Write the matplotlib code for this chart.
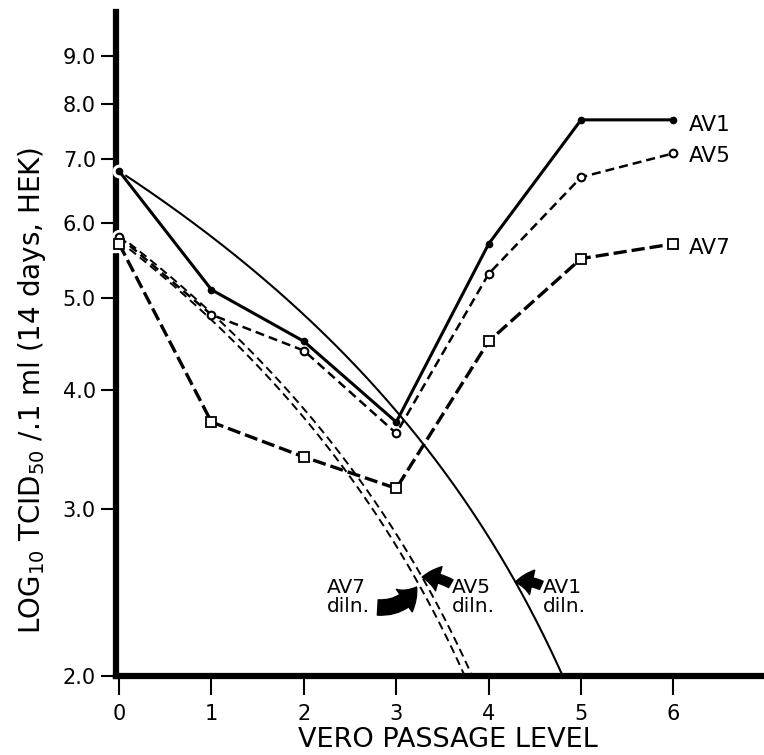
import matplotlib.pyplot as plt
import numpy as np
from matplotlib.path import Path
from matplotlib.ticker import NullLocator

# titers
passage = [0, 1, 2, 3, 4, 5, 6]
av1 = [6.8, 5.1, 4.5, 3.7, 5.7, 7.7, 7.7]
av5 = [5.8, 4.8, 4.4, 3.6, 5.3, 6.7, 7.1]
av7 = [5.7, 3.7, 3.4, 3.15, 4.5, 5.5, 5.7]

# dilution lines (about 1 log per passage), ending at the 2.0 baseline
av1_dil_x = [0, 1, 2, 3, 4, 4.8]
av1_dil = [6.8, 5.8, 4.8, 3.8, 2.8, 2.0]
av5_dil_x = [0, 1, 2, 3, 3.82]
av5_dil = [5.82, 4.82, 3.82, 2.82, 2.0]
av7_dil_x = [0, 1, 2, 3, 3.74]
av7_dil = [5.74, 4.74, 3.74, 2.74, 2.0]

yticks = [2, 3, 4, 5, 6, 7, 8, 9]
xticks = [0, 1, 2, 3, 4, 5, 6]

plt.rcParams['font.family'] = 'DejaVu Sans'
plt.rcParams['lines.scale_dashes'] = False

fig = plt.figure(figsize=(7.64, 7.55), dpi=100)
ax = fig.add_axes([0.152, 0.105, 0.848, 0.879])
ax.set_yscale('log')


def bent(x, y, steps=60):
    # straight in data space, so it bends on the log axis
    p = Path(np.column_stack([x, y])).interpolated(steps)
    return p.vertices[:, 0], p.vertices[:, 1]


# dilution curves
ax.plot(*bent(av1_dil_x, av1_dil), color='k', lw=1.5, zorder=3)
ax.plot(*bent(av5_dil_x, av5_dil), color='k', lw=1.4, dashes=(6, 3.5), zorder=3)
ax.plot(*bent(av7_dil_x, av7_dil), color='k', lw=1.4, dashes=(6, 3.5), zorder=3)

# white halos where the first points sit on the axis
ax.plot(passage[:1], av1[:1], ls='none', marker='o', ms=9, color='white', zorder=4, clip_on=False)
ax.plot(passage[:1], av5[:1], ls='none', marker='o', ms=10, color='white', zorder=4, clip_on=False)
ax.plot(passage[:1], av7[:1], ls='none', marker='s', ms=11, color='white', zorder=4, clip_on=False)

ax.plot(passage, av1, color='k', lw=2.2, marker='o', ms=4.5, zorder=5, clip_on=False)
ax.plot(passage, av5, color='k', lw=1.8, dashes=(6.5, 3.6), marker='o', ms=5.5,
        mfc='white', mew=1.5, zorder=5, clip_on=False)
ax.plot(passage, av7, color='k', lw=2.4, dashes=(9.5, 3.6), marker='s', ms=7,
        mfc='white', mew=1.3, zorder=5, clip_on=False)

# series labels on the right
fs = 15.5
ax.text(6.17, 7.6, 'AV1', fontsize=fs, va='center')
ax.text(6.17, 7.05, 'AV5', fontsize=fs, va='center')
ax.text(6.17, 5.65, 'AV7', fontsize=fs, va='center')

# dilution labels with curved arrows
ax.text(2.48, 2.42, 'AV7\ndiln.', fontsize=14.5, ha='center', va='center',
        multialignment='left', linespacing=1.0)
ax.text(3.60, 2.42, 'AV5\ndiln.', fontsize=14.5, ha='left', va='center',
        multialignment='left', linespacing=1.0)
ax.text(4.59, 2.42, 'AV1\ndiln.', fontsize=14.5, ha='left', va='center',
        multialignment='left', linespacing=1.0)

ax.annotate('', xy=(3.22, 2.48), xytext=(2.80, 2.36),
            arrowprops=dict(arrowstyle='simple,head_length=0.6,head_width=0.9,tail_width=0.5',
                            connectionstyle='arc3,rad=0.3', fc='k', ec='k',
                            mutation_scale=22, shrinkA=0, shrinkB=0))
ax.annotate('', xy=(3.28, 2.54), xytext=(3.59, 2.50),
            arrowprops=dict(arrowstyle='simple,head_length=0.6,head_width=0.9,tail_width=0.32',
                            connectionstyle='arc3,rad=0.15', fc='k', ec='k',
                            mutation_scale=20, shrinkA=0, shrinkB=0))
ax.annotate('', xy=(4.29, 2.51), xytext=(4.57, 2.49),
            arrowprops=dict(arrowstyle='simple,head_length=0.6,head_width=0.9,tail_width=0.32',
                            connectionstyle='arc3,rad=0.15', fc='k', ec='k',
                            mutation_scale=20, shrinkA=0, shrinkB=0))

ax.set_xlim(-0.032, 6.98)
ax.set_ylim(2.0, 10.0)
ax.set_xticks(xticks)
ax.set_xticklabels([str(v) for v in xticks])
ax.set_yticks(yticks)
ax.set_yticklabels(['%.1f' % v for v in yticks])
ax.yaxis.set_minor_locator(NullLocator())

for s in ['top', 'right']:
    ax.spines[s].set_visible(False)
for s in ['left', 'bottom']:
    ax.spines[s].set_linewidth(4.5)

ax.tick_params(axis='y', length=11, width=1.5, pad=3.5, labelsize=15)
ax.tick_params(axis='x', length=14, width=1.5, pad=6, labelsize=15)

ax.set_ylabel(r'LOG$_{10}$ TCID$_{50}$ /.1 ml (14 days, HEK)', fontsize=20)
ax.yaxis.set_label_coords(-0.105, 0.43)
ax.set_xlabel('VERO PASSAGE LEVEL', fontsize=19.5)
ax.xaxis.set_label_coords(0.512, -0.077)

plt.savefig('out.png', dpi=100)
